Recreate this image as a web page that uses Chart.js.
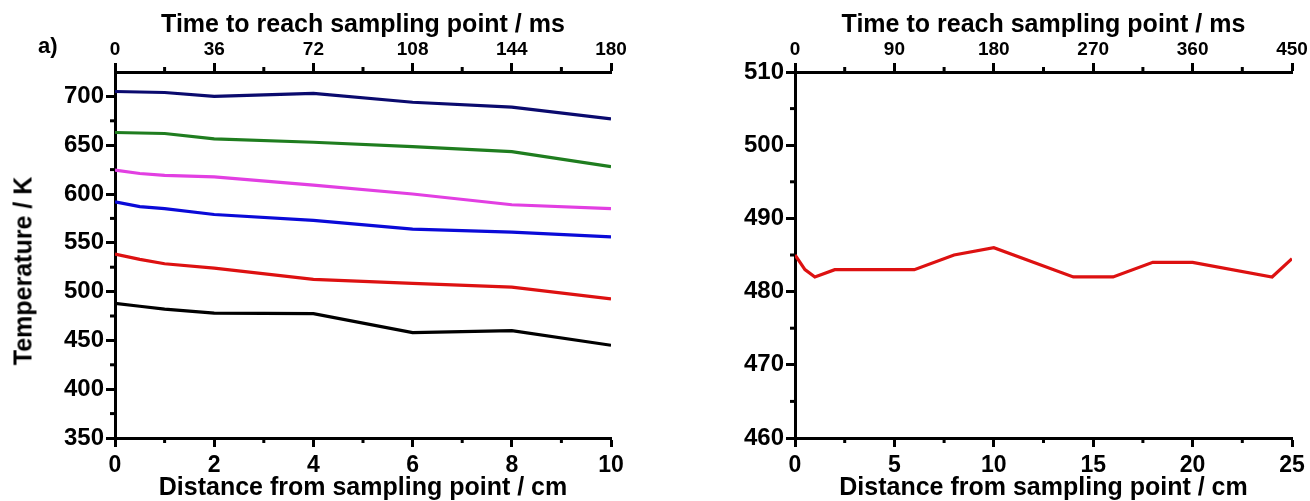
<!DOCTYPE html>
<html>
<head>
<meta charset="utf-8">
<script src="https://cdn.jsdelivr.net/npm/chart.js@4.4.1/dist/chart.umd.min.js"></script>
<style>
  html, body { margin: 0; padding: 0; background: #fff; }
  #wrap { position: relative; width: 1310px; height: 501px; overflow: hidden; }
  canvas { position: absolute; top: 0; }
  #left { left: 0; }
  #right { left: 655px; }
  #tag { position: absolute; left: 38px; top: 33px; font: bold 22px 'Liberation Sans', Arial, sans-serif; color: #000; }
  #ytitle { position: absolute; left: 23px; top: 271px; transform: translate(-50%, -50%) rotate(-90deg);
            white-space: nowrap; font: bold 25px 'Liberation Sans', Arial, sans-serif; color: #000; }
</style>
</head>
<body>
<div id="wrap">
  <canvas id="left" width="655" height="501"></canvas>
  <canvas id="right" width="655" height="501"></canvas>
  <div id="tag">a)</div>
  <div id="ytitle">Temperature / K</div>
</div>
<script>
// panel a) distance (cm) vs temperature (K), one line per furnace setting
const distLeft = [0, 0.5, 1, 2, 4, 6, 8, 10];
const tNavy    = [705, 704.5, 704, 700, 703, 694, 689, 677];
const tGreen   = [663, 662.5, 662, 656.5, 653, 648.5, 643.5, 628];
const tMagenta = [624.5, 621, 619, 617.5, 609, 600, 589, 585];
const tBlue    = [592, 587, 585, 579, 573, 564, 561, 556];
const tRed     = [538.5, 533, 528.5, 524, 512.5, 508.5, 504.5, 492.5];
const tBlack   = [488, 485, 482, 478, 477.5, 458, 460, 445];

// right panel
const distRight = [0, 0.5, 1, 2, 6, 8, 10, 14, 16, 18, 20, 24, 25];
const tRight    = [485, 483, 482, 483, 483, 485, 486, 482, 482, 484, 484, 482, 484.5];

// tick labels
const leftBottomTicks  = [0, 2, 4, 6, 8, 10];
const leftTopTicks     = [0, 36, 72, 108, 144, 180];
const leftYTicks       = [350, 400, 450, 500, 550, 600, 650, 700];
const rightBottomTicks = [0, 5, 10, 15, 20, 25];
const rightTopTicks    = [0, 90, 180, 270, 360, 450];
const rightYTicks      = [460, 470, 480, 490, 500, 510];

// minor ticks
const leftBottomMinor  = [1, 3, 5, 7, 9];
const leftTopMinor     = [18, 54, 90, 126, 162];
const leftYMinor       = [375, 425, 475, 525, 575, 625, 675];
const rightBottomMinor = [2.5, 7.5, 12.5, 17.5, 22.5];
const rightTopMinor    = [45, 135, 225, 315, 405];
const rightYMinor      = [465, 475, 485, 495, 505];

const FONT = "'Liberation Sans', Arial, sans-serif";

function pts(xs, ys) {
  return xs.map((x, i) => ({ x, y: ys[i] }));
}

function fixTicks(values) {
  return scale => { scale.ticks = values.map(v => ({ value: v })); };
}

function line(data, color) {
  return { data, borderColor: color, borderWidth: 3.2, pointRadius: 0, tension: 0, fill: false };
}

// short unlabeled ticks between the labeled ones
const minorTicks = {
  id: 'minorTicks',
  afterDraw(chart, args, opts) {
    const ctx = chart.ctx;
    const a = chart.chartArea;
    ctx.save();
    ctx.strokeStyle = '#000';
    ctx.lineWidth = 3;
    (opts.x || []).forEach(v => {
      const p = chart.scales.x.getPixelForValue(v);
      ctx.beginPath(); ctx.moveTo(p, a.bottom); ctx.lineTo(p, a.bottom + 5); ctx.stroke();
    });
    (opts.x2 || []).forEach(v => {
      const p = chart.scales.x2.getPixelForValue(v);
      ctx.beginPath(); ctx.moveTo(p, a.top); ctx.lineTo(p, a.top - 5); ctx.stroke();
    });
    (opts.y || []).forEach(v => {
      const p = chart.scales.y.getPixelForValue(v);
      ctx.beginPath(); ctx.moveTo(a.left, p); ctx.lineTo(a.left - 5, p); ctx.stroke();
    });
    ctx.restore();
  }
};

function axis(pos, min, max, ticks, size, fontSize, pad, extra) {
  return Object.assign({
    type: 'linear',
    position: pos,
    min, max,
    afterBuildTicks: fixTicks(ticks),
    afterFit: s => { if (pos === 'left') s.width = size; else s.height = size; },
    grid: { drawOnChartArea: false, tickLength: 9, tickWidth: 3, tickColor: '#000' },
    border: { color: '#000', width: 3 },
    ticks: { color: '#000', font: { family: FONT, size: fontSize, weight: 'bold' }, padding: pad, maxRotation: 0, autoSkip: false }
  }, extra || {});
}

function title(text, padding) {
  return { display: true, text, color: '#000', font: { family: FONT, size: 25, weight: 'bold', lineHeight: 1 }, padding };
}

const common = {
  responsive: false,
  animation: false,
  plugins: { legend: { display: false }, tooltip: { enabled: false } }
};

new Chart(document.getElementById('left').getContext('2d'), {
  type: 'line',
  data: {
    datasets: [
      line(pts(distLeft, tNavy), '#0a0a6e'),
      line(pts(distLeft, tGreen), '#1f7d1f'),
      line(pts(distLeft, tMagenta), '#e23fe2'),
      line(pts(distLeft, tBlue), '#0a0ad8'),
      line(pts(distLeft, tRed), '#dd1111'),
      line(pts(distLeft, tBlack), '#000000')
    ]
  },
  options: Object.assign({}, common, {
    layout: { padding: { left: 0, right: 44, top: 0, bottom: 0 } },
    plugins: Object.assign({}, common.plugins, { minorTicks: { x: leftBottomMinor, x2: leftTopMinor, y: leftYMinor } }),
    scales: {
      x: axis('bottom', 0, 10, leftBottomTicks, 63, 23, 5, { title: title('Distance from sampling point / cm', { top: 0, bottom: 0 }) }),
      x2: axis('top', 0, 180, leftTopTicks, 72, 19, 2, { title: title('Time to reach sampling point / ms', { top: 13, bottom: 0 }) }),
      y: axis('left', 350, 725, leftYTicks, 115, 24, 2)
    }
  }),
  plugins: [minorTicks]
});

new Chart(document.getElementById('right').getContext('2d'), {
  type: 'line',
  data: {
    datasets: [
      line(pts(distRight, tRight), '#dd1111')
    ]
  },
  options: Object.assign({}, common, {
    layout: { padding: { left: 0, right: 18, top: 0, bottom: 0 } },
    plugins: Object.assign({}, common.plugins, { minorTicks: { x: rightBottomMinor, x2: rightTopMinor, y: rightYMinor } }),
    scales: {
      x: axis('bottom', 0, 25, rightBottomTicks, 63, 23, 5, { title: title('Distance from sampling point / cm', { top: 0, bottom: 0 }) }),
      x2: axis('top', 0, 450, rightTopTicks, 72, 19, 2, { title: title('Time to reach sampling point / ms', { top: 13, bottom: 0 }) }),
      y: axis('left', 460, 510, rightYTicks, 140, 24, 2)
    }
  }),
  plugins: [minorTicks]
});
</script>
</body>
</html>
